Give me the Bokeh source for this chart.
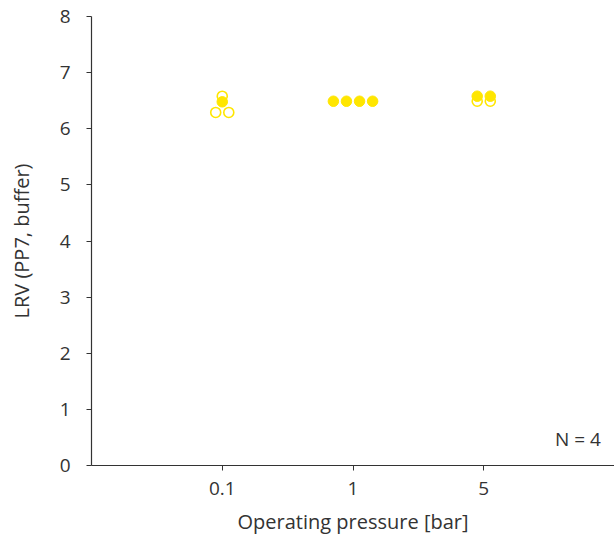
from bokeh.plotting import figure
from bokeh.models import FixedTicker, Range1d, Label
from bokeh.embed import file_html
from bokeh.resources import INLINE

# Data
pressures = ["0.1", "1", "5"]
# filled markers (LRV)
filled_group = [0, 1, 1, 1, 1, 2, 2]
filled_jitter = [0.0, -0.15, -0.05, 0.05, 0.15, -0.05, 0.05]
filled_lrv = [6.48, 6.49, 6.49, 6.49, 6.49, 6.58, 6.58]
# open markers
open_group = [0, 0, 0, 2, 2]
open_jitter = [0.0, -0.05, 0.05, -0.05, 0.05]
open_lrv = [6.58, 6.29, 6.29, 6.49, 6.49]

yellow = "#FFE600"
text_color = "#333333"
font = "Open Sans"

fx = [g + 1 + j for g, j in zip(filled_group, filled_jitter)]
ox = [g + 1 + j for g, j in zip(open_group, open_jitter)]

p = figure(width=614, height=542, output_backend="svg", toolbar_location=None,
           x_range=Range1d(0, 4), y_range=Range1d(0, 8),
           min_border_top=16, min_border_right=0, min_border_left=91, min_border_bottom=77)
p.outline_line_color = None
p.grid.visible = False
p.background_fill_color = "white"
p.border_fill_color = "white"

p.scatter(x=ox, y=open_lrv, size=10, fill_color="white", line_color=yellow, line_width=1.6)
p.scatter(x=fx, y=filled_lrv, size=10.5, fill_color=yellow, line_color=yellow, line_width=1)

p.xaxis.ticker = FixedTicker(ticks=[1, 2, 3])
p.xaxis.major_label_overrides = {i + 1: s for i, s in enumerate(pressures)}
p.yaxis.ticker = FixedTicker(ticks=list(range(0, 9)))

for ax in (p.xaxis[0], p.yaxis[0]):
    ax.axis_line_color = text_color
    ax.axis_line_width = 1.2
    ax.major_tick_line_color = text_color
    ax.major_tick_in = 0
    ax.major_tick_out = 5
    ax.minor_tick_line_color = None
    ax.major_label_text_font = font
    ax.major_label_text_font_size = "19px"
    ax.major_label_text_color = text_color
    ax.axis_label_text_font = font
    ax.axis_label_text_font_size = "20px"
    ax.axis_label_text_font_style = "normal"
    ax.axis_label_text_color = text_color

p.xaxis.axis_label = "Operating pressure [bar]"
p.yaxis.axis_label = "LRV (PP7, buffer)"
p.xaxis.major_label_standoff = 11
p.yaxis.major_label_standoff = 16
p.xaxis.axis_label_standoff = 10
p.yaxis.axis_label_standoff = 22

p.add_layout(Label(x=3.72, y=0.48, text="N = 4", text_align="center", text_baseline="middle",
                   text_font=font, text_font_size="19px", text_color=text_color))

open("out.html", "w").write(file_html(p, INLINE))
